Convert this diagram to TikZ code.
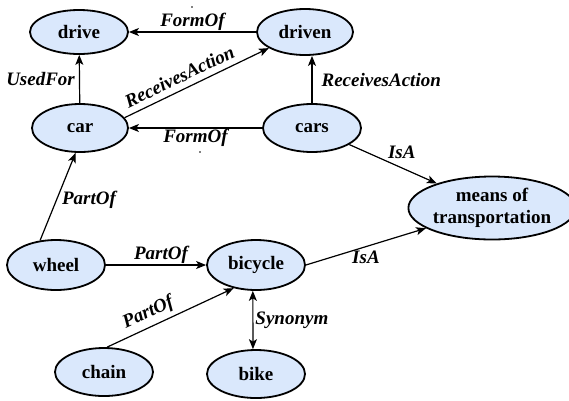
\documentclass[tikz,border=0pt]{standalone}
\usepackage{fontspec}
\setmainfont{Liberation Serif}
\newfontfamily\tnr{Liberation Serif}
\usetikzlibrary{arrows.meta,shapes.geometric}
\definecolor{nodeblue}{RGB}{218,232,252}
\begin{document}
\begin{tikzpicture}[x=1pt,y=-1pt,
  concept/.style={ellipse, draw=black, line width=1.8pt, fill=nodeblue, inner sep=0pt,
    font=\tnr\fontsize{19}{22}\selectfont\bfseries, align=center},
  tip/.tip={Stealth[length=10pt,width=8pt,inset=2.5pt]},
  rel/.style={draw=black, line width=1.2pt, -tip},
  lab/.style={font=\tnr\fontsize{19}{20}\selectfont\bfseries\itshape, inner sep=1pt}]
\path[use as bounding box] (0,0) rectangle (569,400);
\node[concept, minimum width=98pt, minimum height=44pt] (drive) at (79,32) {drive};
\node[concept, minimum width=96pt, minimum height=46pt] (driven) at (305,32) {driven};
\node[concept, minimum width=96pt, minimum height=48pt] (car) at (80,128) {car};
\node[concept, minimum width=98pt, minimum height=48pt] (cars) at (312,128) {cars};
\node[concept, minimum width=98pt, minimum height=50pt] (wheel) at (56,265) {wheel};
\node[concept, minimum width=98pt, minimum height=50pt] (bicycle) at (256,265) {bicycle};
\node[concept, minimum width=98pt, minimum height=48pt] (chain) at (104,372) {chain};
\node[concept, minimum width=98pt, minimum height=48pt] (bike) at (256,374) {bike};
\node[concept, minimum width=150pt, minimum height=63pt] (means) at (492,208) {means of\\transportation};

\draw[rel] (driven) -- node[lab, above] {FormOf} (drive);
\draw[rel] (car) -- node[lab, left=3pt] {UsedFor} (drive);
\draw[rel] (car.13) -- node[lab, above=5pt, sloped, pos=0.42] {ReceivesAction} (driven.204);
\draw[rel] (cars.north) -- node[lab, right=8pt] {ReceivesAction} (cars.north |- driven.south);
\draw[rel] (cars) -- node[lab, below] {FormOf} (car);
\draw[rel] (cars) -- node[lab, pos=0.6, above=8pt] {IsA} (means);
\draw[rel] (bicycle.east) -- node[lab, below=3pt] {IsA} (means);
\draw[rel] (wheel.123) -- node[lab, right=4pt, pos=0.46] {PartOf} (car.-100);
\draw[rel] (wheel) -- node[lab, above, pos=0.55] {PartOf} (bicycle);
\draw[rel] (chain.83) -- node[lab, above=3pt, sloped, pos=0.37] {PartOf} (bicycle.-134);
\draw[rel, tip-tip] (bicycle.-97) -- node[lab, right=1pt] {Synonym} (bike.97);

\fill (192,7) circle (0.9);
\fill (200,152) circle (0.9);
\end{tikzpicture}
\end{document}
